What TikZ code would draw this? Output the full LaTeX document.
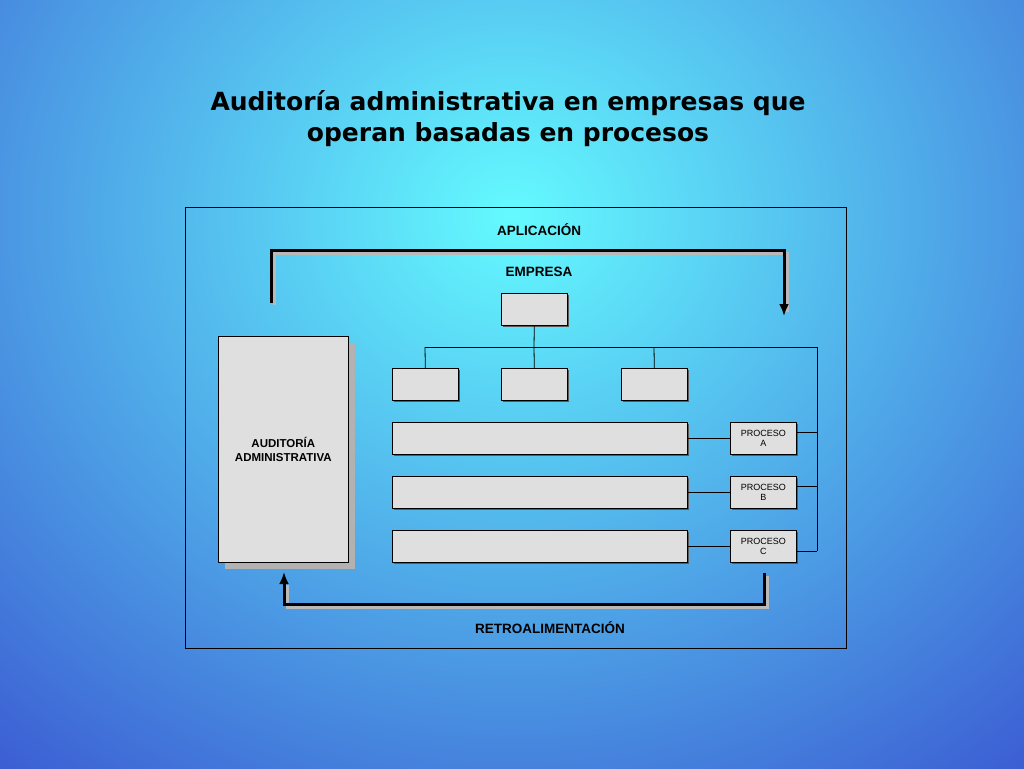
\documentclass[tikz,border=0pt]{standalone}
\usepackage{fontspec}
\setmainfont{DejaVu Sans}
\newfontfamily\arialf{Liberation Sans}
\usetikzlibrary{arrows.meta}
\definecolor{bgblue}{RGB}{50,55,200}
\definecolor{bgcyan}{RGB}{100,250,255}
\begin{document}
\begin{tikzpicture}[x=1pt,y=-1pt,
 gbox/.style={draw=black,line width=0.6pt,fill=gray!25},
 lbl/.style={font=\arialf\bfseries\fontsize{13.5}{16}\selectfont},
 small/.style={font=\arialf\fontsize{9}{10}\selectfont,align=center},
 conn/.style={line width=0.8pt},
 big/.style={line width=3pt,line cap=butt}]
\useasboundingbox (0,0) rectangle (1024,768);
\fill[bgblue] (0,0) rectangle (1024,768);
\begin{scope}
\clip (0,0) rectangle (1024,768);
\shade[inner color=bgcyan,outer color=bgblue] (512,215) ellipse (1000 and 900);
\end{scope}
\node[font=\bfseries\fontsize{25}{31}\selectfont,align=center] (title) at (508,119) {Auditoría administrativa en empresas que\\operan basadas en procesos};
\draw[line width=0.7pt] (185,207) rectangle (846,648);
\node[lbl] (apl) at (539,230) {APLICACIÓN};
\node[lbl] (emp) at (539,272) {EMPRESA};
\node[lbl] (ret) at (550,628) {RETROALIMENTACIÓN};
% audit box
\fill[gray!60] (225,343) rectangle (355,569);
\node[gbox,minimum width=130pt,minimum height=226pt,anchor=north west] (aud) at (218,336) {};
\node[align=center,font=\arialf\bfseries\fontsize{11.5}{14}\selectfont] at (aud.center) {AUDITORÍA\\ADMINISTRATIVA};
% boxes
\foreach \n/\x/\y/\w in {top/501/293/66,b1/392/368/66,b2/501/368/66,b3/621/368/66,r1/392/422/295,r2/392/476/295,r3/392/530/295,pa/730/422/66,pb/730/476/66,pc/730/530/66}{
 \fill[gray!70!black] (\x+2,\y+2) rectangle (\x+\w+2,\y+34);
 \node[gbox,minimum width=\w pt,minimum height=32pt,anchor=north west,inner sep=0pt] (\n) at (\x,\y) {};
}
\node[small] at (pa.center) {PROCESO\\A};
\node[small] at (pb.center) {PROCESO\\B};
\node[small] at (pc.center) {PROCESO\\C};
% connectors
\coordinate (j) at (534,347);
\draw[conn] (top.south) -- (j);
\draw[conn] (425,347) -- (817,347);
\draw[conn] (425,347) -- (b1.north);
\draw[conn] (j) -- (b2.north);
\draw[conn] (654,347) -- (b3.north);
\draw[conn] (817,347) -- (817,551);
\draw[conn] (pa.east|-0,432) -- (817,432);
\draw[conn] (pb.east|-0,486) -- (817,486);
\draw[conn] (pc.east|-0,551) -- (817,551);
\draw[conn] (r1.east) -- (pa.west);
\draw[conn] (r2.east) -- (pb.west);
\draw[conn] (r3.east) -- (pc.west);
% big arrows
\draw[big,gray!55] (274,305) -- (274,253) -- (787,253) -- (787,312);
\draw[big,-{Latex[length=12pt,width=10pt]}] (271,303) -- (271,250) -- (784,250) -- (784,316);
\draw[big,gray!55] (767,576) -- (767,607) -- (287,607) -- (287,585);
\draw[big,-{Latex[length=12pt,width=10pt]}] (764,573) -- (764,604) -- (284,604) -- (284,572);
\end{tikzpicture}
\end{document}
